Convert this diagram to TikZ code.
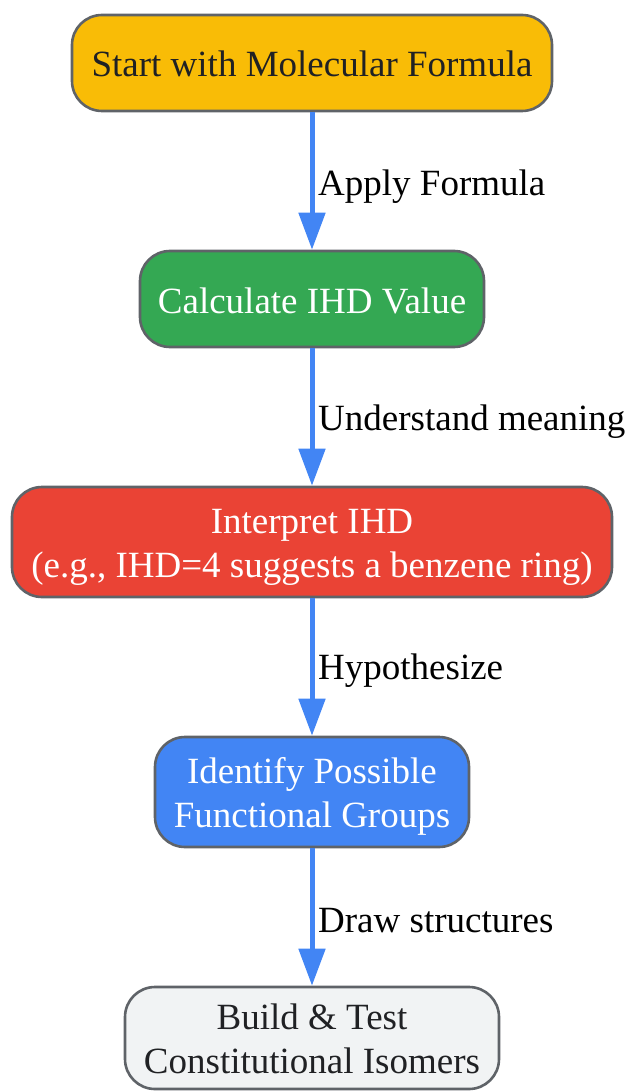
\documentclass[tikz,border=0pt]{standalone}
\usepackage{fontspec}
\setmainfont{Liberation Serif}
\usetikzlibrary{arrows.meta}
\definecolor{gyellow}{HTML}{F9BC06}
\definecolor{ggreen}{HTML}{34A853}
\definecolor{gred}{HTML}{EA4335}
\definecolor{gblue}{HTML}{4285F4}
\definecolor{ggrey}{HTML}{F1F3F4}
\definecolor{gborder}{HTML}{5F6368}
\definecolor{gtext}{HTML}{202124}
\newcommand\mytopst{\rule{0pt}{36pt}}
\newcommand\mybotst{\rule[-10pt]{0pt}{0pt}}
\newcommand\mybotsingle{\rule[-8pt]{0pt}{0pt}}
\tikzset{
  box/.style={draw=gborder, line width=2.6pt, rounded corners=30pt, inner sep=0pt,
    align=center, font=\fontsize{37}{44}\selectfont},
  lbl/.style={anchor=west, inner sep=0pt, font=\fontsize{37}{44}\selectfont, text=black},
  conn/.style={draw=gblue, line width=5pt, -{Triangle[width=26pt,length=37pt]}}
}
\begin{document}
\begin{tikzpicture}[x=1pt,y=-1pt]
\useasboundingbox (0,0) rectangle (631,1091);
\node[box, fill=gyellow, text=gtext, minimum width=480pt, minimum height=96pt] (n1) at (312,63) {\mytopst Start with Molecular Formula\mybotsingle};
\node[box, fill=ggreen, text=white, minimum width=344pt, minimum height=96pt] (n2) at (312,299) {\mytopst Calculate IHD Value\mybotsingle};
\node[box, fill=gred, text=white, minimum width=600pt, minimum height=110pt] (n3) at (312,542) {\mytopst Interpret IHD\\(e.g., IHD=4 suggests a benzene ring)\mybotst};
\node[box, fill=gblue, text=white, minimum width=314pt, minimum height=110pt] (n4) at (312,792) {\mytopst Identify Possible\\Functional Groups\mybotst};
\node[box, fill=ggrey, text=gtext, minimum width=374pt, minimum height=102pt] (n5) at (312,1038) {\mytopst Build \& Test\\Constitutional Isomers\mybotst};
\draw[conn] (n1.south) -- (n2.north);
\draw[conn] (n2.south) -- (n3.north);
\draw[conn] (n3.south) -- (n4.north);
\draw[conn] (n4.south) -- (n5.north);
\node[lbl] (l1) at (318,187) {Apply Formula};
\node[lbl] (l2) at (318,422) {Understand meaning};
\node[lbl] (l3) at (318,671) {Hypothesize};
\node[lbl] (l4) at (318,921) {Draw structures};
\end{tikzpicture}
\end{document}
